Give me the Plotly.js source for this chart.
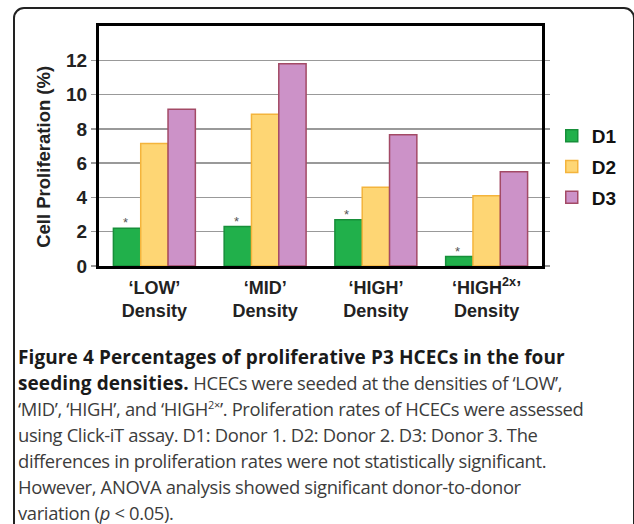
<!DOCTYPE html>
<html>
<head>
<meta charset="utf-8">
<script src="https://cdn.plot.ly/plotly-3.0.1.min.js"></script>
<style>
  html, body { margin: 0; padding: 0; width: 634px; height: 524px; overflow: hidden; background: #fff; }
  #frame { position: absolute; left: 13px; top: 7px; width: 622px; height: 560px; border: 2px solid #222; border-radius: 11px; box-sizing: border-box; }
  #chart { position: absolute; left: 0; top: 0; width: 634px; height: 524px; }
  #caption { position: absolute; left: 18px; top: 344px; width: 616px; font-family: "Open Sans", "Noto Sans", sans-serif; font-size: 18.4px; line-height: 26px; color: #3c3c3c; letter-spacing: -0.35px; white-space: nowrap; }
  #caption b { color: #1a1a1a; font-weight: 700; font-size: 19px; letter-spacing: 0.1px; }
  #caption sup { font-size: 11px; line-height: 0; }
</style>
</head>
<body>
<div id="frame"></div>
<div id="chart"></div>
<div id="caption"><b>Figure 4 Percentages of proliferative P3 HCECs in the four</b><br><b>seeding densities.</b> HCECs were seeded at the densities of ‘LOW’,<br>‘MID’, ‘HIGH’, and ‘HIGH<sup>2×</sup>’. Proliferation rates of HCECs were assessed<br>using Click-iT assay. D1: Donor 1. D2: Donor 2. D3: Donor 3. The<br>differences in proliferation rates were not statistically significant.<br>However, ANOVA analysis showed significant donor-to-donor<br>variation (<i>p</i> &lt; 0.05).</div>
<script>
const categories = ["‘LOW’<br>Density", "‘MID’<br>Density", "‘HIGH’<br>Density", "‘HIGH<sup>2x</sup>’<br>Density"];
const seriesNames = ["D1", "D2", "D3"];
const d1 = [2.2, 2.3, 2.7, 0.55];
const d2 = [7.15, 8.85, 4.6, 4.1];
const d3 = [9.15, 11.8, 7.65, 5.5];
const d1Marks = ["*", "*", "*", "*"];
const yTicks = [0, 2, 4, 6, 8, 10, 12];
const yTitle = "Cell Proliferation (%)";

const fills = ["#21b04b", "#fed674", "#cc92c8"];
const edges = ["#178f3a", "#f4b43c", "#a34a66"];
const values = [d1, d2, d3];
const boldFont = "Liberation Sans, Arial, sans-serif";

const traces = values.map((v, i) => ({
  type: "bar",
  name: seriesNames[i],
  legendgroup: seriesNames[i],
  x: categories,
  y: v,
  marker: { color: fills[i], line: { color: edges[i], width: 1.5 } },
  hoverinfo: "none"
}));

// asterisks above D1 bars, placed through the axes
const d1Offset = -29; // px shift from category centre to the D1 bar centre
const markAnnotations = d1.map((v, k) => ({
  x: categories[k], y: v, xref: "x", yref: "y",
  text: d1Marks[k], showarrow: false, xshift: d1Offset, yshift: -4,
  yanchor: "bottom",
  font: { family: boldFont, size: 13, color: "#555" }
}));

const layout = {
  width: 634,
  height: 524,
  margin: { l: 99, r: 69, t: 26, b: 258 },
  paper_bgcolor: "rgba(0,0,0,0)",
  plot_bgcolor: "#fff",
  barmode: "group",
  bargap: 0.26,
  bargroupgap: 0,
  showlegend: true,
  legend: {
    x: 1.022, xanchor: "left", y: 0.4125, yanchor: "middle",
    font: { family: boldFont, size: 19, color: "#111", weight: "bold" },
    itemwidth: 30, tracegroupgap: 3, traceorder: "grouped",
    bgcolor: "rgba(0,0,0,0)"
  },
  xaxis: {
    type: "category",
    showline: true, linecolor: "#000", linewidth: 3, mirror: true,
    ticks: "", showgrid: false, ticklabelstandoff: 3,
    tickfont: { family: boldFont, size: 18, color: "#222", weight: "bold" },
    automargin: false
  },
  yaxis: {
    range: [0, 14],
    tickvals: yTicks,
    ticktext: yTicks.map(String),
    showline: true, linecolor: "#000", linewidth: 3, mirror: "ticks",
    ticks: "outside", ticklen: 5, tickcolor: "#999", tickwidth: 1.5,
    showgrid: true, gridcolor: "#999", gridwidth: 1.5,
    zeroline: false,
    tickfont: { family: boldFont, size: 19, color: "#222", weight: "bold" },
    automargin: false
  },
  annotations: [{
    text: yTitle, textangle: -90,
    xref: "paper", yref: "paper", x: 0, y: 0.455,
    xanchor: "center", yanchor: "middle", xshift: -55, showarrow: false,
    font: { family: boldFont, size: 18.5, color: "#222", weight: "bold" }
  }].concat(markAnnotations)
};

Plotly.newPlot("chart", traces, layout, { displayModeBar: false, staticPlot: true });
</script>
</body>
</html>
